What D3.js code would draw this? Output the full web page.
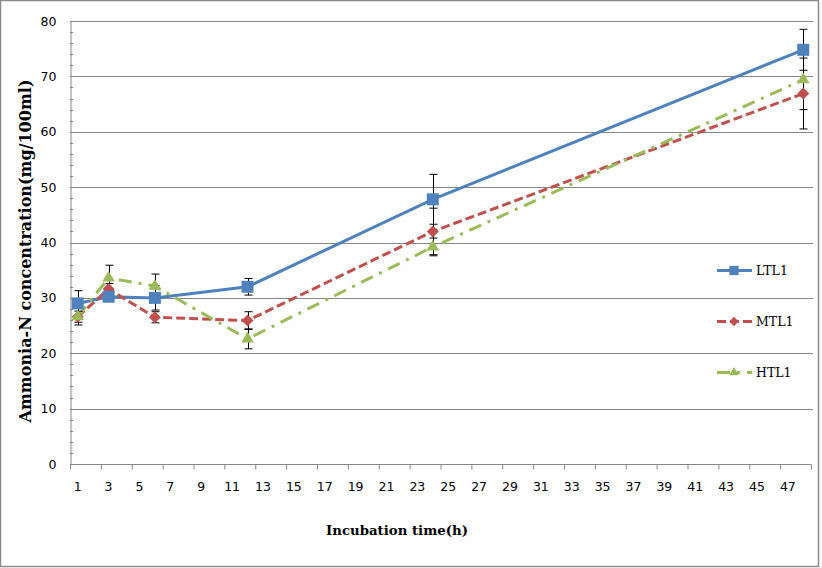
<!DOCTYPE html>
<html><head><meta charset="utf-8">
<script src="https://cdn.jsdelivr.net/npm/d3@7"></script>
<style>body{margin:0;background:#fff}svg{display:block}</style>
</head><body>
<script>
const hours = [1, 3, 6, 12, 24, 48];
const ltl = [29.0, 30.2, 30.0, 32.0, 47.8, 74.8];
const ltlErr = [2.3, 0.8, 2.2, 1.5, 4.5, 3.7];
const mtl = [26.6, 31.6, 26.5, 25.9, 42.0, 66.9];
const mtlErr = [1.5, 1.0, 1.0, 1.6, 4.2, 6.4];
const htl = [26.6, 33.6, 32.1, 22.6, 39.2, 69.4];
const htlErr = [1.0, 2.3, 2.2, 1.8, 1.6, 5.4];
const xTickLabels = d3.range(1, 48, 2);
const yTickLabels = [0, 10, 20, 30, 40, 50, 60, 70, 80];
const seriesNames = ["LTL1", "MTL1", "HTL1"];

const W = 822, H = 568;
const L = 70, R = 811, T = 21, B = 464;
const svg = d3.select("body").append("svg").attr("width", W).attr("height", H);
svg.append("rect").attr("x", 0.5).attr("y", 0.5).attr("width", W - 4).attr("height", H - 2)
  .attr("fill", "#fff").attr("stroke", "#8a8a8a").attr("stroke-width", 1.5);

const x = d3.scaleLinear().domain([0.5, 48.5]).range([L, R]);
const y = d3.scaleLinear().domain([0, 80]).range([B, T]);

// gridlines
svg.append("g").selectAll("line").data(yTickLabels.filter(v => v > 0)).join("line")
  .attr("x1", L).attr("x2", R + 2).attr("y1", d => Math.round(y(d)) + 0.5).attr("y2", d => Math.round(y(d)) + 0.5)
  .attr("stroke", "#868686").attr("stroke-width", 1);

// y minor ticks
svg.append("g").selectAll("line").data(d3.range(2, 80, 2).filter(v => v % 10 !== 0)).join("line")
  .attr("x1", L).attr("x2", L + 3).attr("y1", d => Math.round(y(d)) + 0.5).attr("y2", d => Math.round(y(d)) + 0.5)
  .attr("stroke", "#868686");

// y axis
const yAxis = d3.axisLeft(y).tickValues(yTickLabels).tickSize(0).tickPadding(14);
const gy = svg.append("g").attr("transform", `translate(${L + 0.5},0)`).call(yAxis);
gy.select(".domain").attr("stroke", "#868686");
gy.selectAll("text").attr("font-family", "DejaVu Sans, Verdana, sans-serif").attr("font-size", 12.5).attr("fill", "#000");

// x axis (category-style)
const xAxis = d3.axisBottom(x).tickValues(d3.range(0.5, 49, 2)).tickSize(5).tickFormat("");
const gx = svg.append("g").attr("transform", `translate(0,${B + 0.5})`).call(xAxis);
gx.select(".domain").attr("stroke", "#868686").attr("d", `M${L},0H${R}`);
gx.selectAll(".tick line").attr("stroke", "#868686");
svg.append("g").selectAll("text").data(xTickLabels).join("text")
  .attr("x", d => x(d)).attr("y", B + 27).attr("text-anchor", "middle")
  .attr("font-family", "DejaVu Sans, Verdana, sans-serif").attr("font-size", 12.5).text(d => d);

// titles
svg.append("text").attr("x", 397).attr("y", 535).attr("text-anchor", "middle")
  .attr("font-family", "DejaVu Serif, serif").attr("font-weight", "bold").attr("font-size", 13.3)
  .text("Incubation time(h)");
svg.append("text").attr("transform", "translate(31,251) rotate(-90)").attr("text-anchor", "middle")
  .attr("font-family", "DejaVu Serif, serif").attr("font-weight", "bold").attr("font-size", 16)
  .text("Ammonia-N concentration(mg/100ml)");

const series = [
  {name: seriesNames[0], vals: ltl, err: ltlErr, color: "#4F81BD", dash: null, marker: d3.symbolSquare, size: 144, rot: 0},
  {name: seriesNames[1], vals: mtl, err: mtlErr, color: "#C0504D", dash: "9,4", marker: d3.symbolSquare, size: 72, rot: 45},
  {name: seriesNames[2], vals: htl, err: htlErr, color: "#9BBB59", dash: "13,7,3,7", marker: d3.symbolTriangle, size: 68, rot: 0}
];

const line = d3.line().x(d => x(d[0])).y(d => y(d[1]));
series.forEach(s => {
  svg.append("path").datum(hours.map((h, i) => [h, s.vals[i]]))
    .attr("d", line).attr("fill", "none").attr("stroke", s.color).attr("stroke-width", 3)
    .attr("stroke-dasharray", s.dash);
});
// error bars
series.forEach(s => {
  const g = svg.append("g").attr("stroke", "#000").attr("stroke-width", 1);
  hours.forEach((h, i) => {
    const cx = Math.round(x(h)) + 0.5, lo = y(s.vals[i] - s.err[i]), hi = y(s.vals[i] + s.err[i]);
    g.append("line").attr("x1", cx).attr("x2", cx).attr("y1", lo).attr("y2", hi);
    g.append("line").attr("x1", cx - 4).attr("x2", cx + 4).attr("y1", lo).attr("y2", lo);
    g.append("line").attr("x1", cx - 4).attr("x2", cx + 4).attr("y1", hi).attr("y2", hi);
  });
});
// markers (draw order: MTL, LTL, HTL)
[series[1], series[0], series[2]].forEach(s => {
  svg.append("g").selectAll("path").data(hours.map((h, i) => [h, s.vals[i]])).join("path")
    .attr("transform", d => `translate(${x(d[0])},${y(d[1])}) rotate(${s.rot})`)
    .attr("d", d3.symbol().type(s.marker).size(s.size)).attr("fill", s.color);
});

// legend
const legY = [270.5, 321.5, 372.5];
series.forEach((s, i) => {
  const g = svg.append("g").attr("transform", `translate(0,${legY[i]})`);
  g.append("line").attr("x1", 717).attr("x2", 752).attr("y1", 0).attr("y2", 0)
    .attr("stroke", s.color).attr("stroke-width", 3).attr("stroke-dasharray", s.dash);
  g.append("path").attr("transform", `translate(734,0) rotate(${s.rot})`)
    .attr("d", d3.symbol().type(s.marker).size(s.size * 0.6)).attr("fill", s.color);
  g.append("text").attr("x", 756).attr("y", 4.5).attr("font-family", "DejaVu Serif, serif")
    .attr("font-size", 12.5).text(s.name);
});
</script>
</body></html>
